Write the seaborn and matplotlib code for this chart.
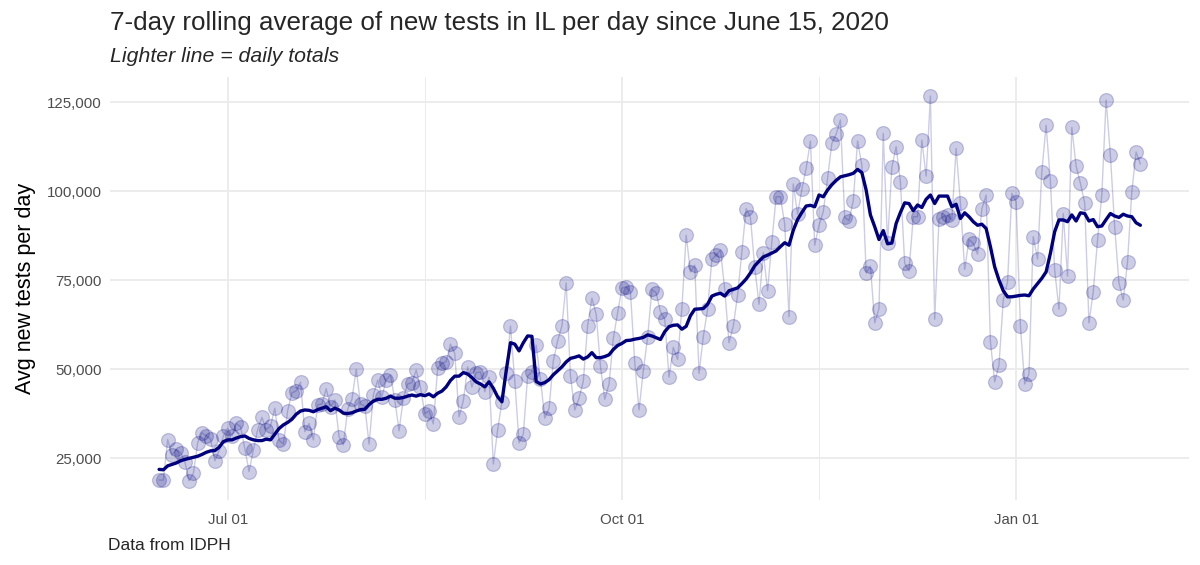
import numpy as np
import pandas as pd
import matplotlib
matplotlib.use("Agg")
import matplotlib.pyplot as plt
import matplotlib.dates as mdates
from matplotlib.ticker import FuncFormatter, MultipleLocator
import seaborn as sns


# 1. dados (em milhares de testes)

DATA_INICIAL = "2020-06-15"

TESTES_DIARIOS_MIL = [
    18.8, 18.8, 30.2, 25.8, 27.4, 26.5, 24.0, 18.6, 20.7, 29.3,
    32.1, 31.2, 30.4, 24.2, 27.1, 31.2, 33.4, 31.2, 34.7, 33.8,
    27.7, 21.2, 27.2, 33.0, 36.4, 33.0, 34.0, 39.0, 30.0, 28.9,
    38.3, 43.3, 43.9, 46.3, 32.4, 34.7, 30.1, 39.9, 40.2, 44.5,
    39.4, 41.3, 31.0, 28.7, 38.7, 41.5, 49.9, 40.2, 39.6, 28.9,
    42.7, 46.9, 42.2, 47.0, 48.3, 41.3, 32.7, 41.8, 45.8, 46.2,
    49.7, 44.9, 37.4, 38.3, 34.6, 50.2, 51.6, 52.1, 57.0, 54.4,
    36.6, 41.1, 50.6, 44.9, 49.0, 49.2, 43.6, 47.7, 23.3, 32.9,
    40.8, 49.0, 62.1, 46.7, 29.3, 31.7, 48.0, 49.2, 56.7, 47.1,
    36.2, 39.0, 52.3, 57.9, 62.1, 74.2, 48.0, 38.5, 41.8, 46.6,
    62.2, 69.9, 65.4, 50.8, 41.5, 45.8, 58.6, 65.8, 72.7, 73.1,
    71.7, 51.8, 38.5, 49.5, 58.9, 72.4, 71.4, 66.1, 64.0, 47.7,
    56.1, 52.7, 67.0, 87.6, 77.3, 79.2, 48.8, 59.1, 66.8, 80.8,
    82.0, 83.4, 72.4, 57.4, 62.1, 70.8, 83.0, 95.1, 92.6, 78.6,
    68.2, 82.7, 72.0, 85.8, 98.4, 98.4, 90.7, 64.7, 102.0, 93.5,
    100.5, 106.4, 114.1, 84.8, 90.4, 94.2, 103.6, 113.4, 116.0, 120.0,
    92.6, 91.7, 97.3, 114.1, 107.3, 77.0, 78.9, 63.0, 67.0, 116.2,
    85.3, 106.7, 112.5, 102.6, 79.7, 77.6, 92.8, 92.8, 114.3, 104.2,
    126.7, 64.0, 92.1, 92.8, 93.2, 91.9, 112.0, 96.7, 78.0, 86.4,
    85.3, 82.3, 94.9, 98.9, 57.7, 46.4, 51.1, 69.4, 74.5, 99.4,
    97.0, 62.1, 45.8, 48.6, 87.2, 80.9, 105.4, 118.5, 102.9, 77.8,
    66.8, 93.7, 76.1, 117.9, 107.0, 102.2, 96.7, 63.0, 71.7, 86.2,
    98.9, 125.6, 110.1, 90.0, 74.2, 69.4, 80.1, 99.8, 111.0, 107.6,
]

MEDIA_MOVEL_MIL = [
    21.8, 21.7, 22.8, 23.2, 23.6, 24.2, 24.6, 24.9, 25.2, 25.5,
    26.0, 26.6, 27.0, 27.1, 28.0, 29.6, 30.1, 30.1, 30.6, 31.0,
    31.2, 30.5, 30.1, 29.9, 29.9, 30.3, 30.1, 31.7, 33.3, 34.3,
    35.0, 35.9, 37.3, 38.2, 38.5, 38.4, 38.0, 38.6, 39.0, 39.4,
    38.3, 39.0, 38.5, 37.6, 37.5, 37.7, 38.2, 38.6, 38.7, 40.0,
    41.0, 41.5, 41.5, 41.8, 42.4, 41.8, 41.8, 42.0, 42.4, 42.7,
    42.4, 42.8, 42.5, 43.0, 42.2, 43.2, 43.8, 45.0, 46.8, 48.0,
    48.0, 49.0, 48.6, 47.6, 46.4, 45.8, 45.0, 46.4, 44.6, 42.2,
    40.8, 49.5, 57.4, 57.0, 55.1, 57.4, 59.3, 59.2, 46.5, 45.8,
    46.2, 47.0, 48.4, 49.5, 50.6, 52.0, 53.0, 53.3, 53.7, 52.8,
    53.4, 54.6, 53.2, 53.2, 53.5, 54.0, 55.5, 56.6, 57.2, 58.0,
    58.1, 58.4, 58.6, 58.9, 59.6, 59.3, 58.8, 58.3, 60.5, 61.9,
    62.3, 62.4, 61.2, 62.0, 65.0, 66.8, 66.9, 67.0, 68.2, 70.5,
    71.0, 71.3, 70.5, 72.0, 72.4, 72.8, 74.0, 75.3, 77.0, 79.0,
    80.3, 81.5, 82.0, 82.6, 83.2, 84.4, 85.5, 84.8, 89.0, 92.0,
    94.0, 95.8, 96.0, 95.6, 98.9, 98.4, 100.3, 101.8, 103.0, 104.0,
    104.3, 104.6, 105.0, 106.1, 105.2, 100.3, 93.3, 90.0, 86.4, 88.9,
    85.2, 85.4, 90.9, 94.0, 96.7, 96.5, 94.5, 96.1, 95.4, 97.7,
    98.9, 96.5, 98.6, 98.6, 98.6, 95.6, 96.3, 92.3, 93.9, 92.8,
    91.4, 90.4, 90.7, 89.5, 84.4, 78.7, 75.0, 72.0, 70.3, 70.3,
    70.5, 70.7, 70.8, 70.6, 72.5, 74.0, 75.5, 77.3, 82.5, 88.6,
    91.9, 91.9, 91.4, 93.3, 91.6, 93.9, 93.7, 91.6, 92.0, 90.0,
    90.2, 92.0, 93.7, 93.0, 92.6, 93.5, 93.0, 92.8, 91.1, 90.4,
]

TITULO = "7-day rolling average of new tests in IL per day since June 15, 2020"
SUBTITULO = "Lighter line = daily totals"
ROTULO_Y = "Avg new tests per day"
LEGENDA_FONTE = "Data from IDPH"


# 2. montagem da tabela

dados = pd.DataFrame(
    {
        "data": pd.date_range(DATA_INICIAL, periods=len(TESTES_DIARIOS_MIL), freq="D"),
        "testes": np.array(TESTES_DIARIOS_MIL) * 1000,
        "media_7d": np.array(MEDIA_MOVEL_MIL) * 1000,
    }
)


# 3. grafico

sns.set_theme(style="white")
plt.rcParams["font.family"] = ["Liberation Sans", "DejaVu Sans"]

fig = plt.figure(figsize=(12, 5.65), dpi=100)
ax = fig.add_axes([0.0917, 0.115, 0.8995, 0.749])

sns.lineplot(data=dados, x="data", y="testes", color="navy", alpha=0.2, linewidth=1.0, ax=ax)
sns.scatterplot(
    data=dados, x="data", y="testes", color="navy", alpha=0.2,
    s=100, edgecolor="navy", linewidth=0.9, ax=ax, zorder=3,
)
sns.lineplot(data=dados, x="data", y="media_7d", color="#00007F", linewidth=2.4, ax=ax, zorder=4)

ax.margins(x=0.05, y=0.05)

ax.xaxis.set_major_locator(mdates.MonthLocator(bymonth=[1, 4, 7, 10]))
ax.xaxis.set_major_formatter(mdates.DateFormatter("%b %d"))
menores = [pd.Timestamp("2020-08-16"), pd.Timestamp("2020-11-16")]
ax.set_xticks(mdates.date2num(menores), minor=True)
ax.yaxis.set_major_locator(MultipleLocator(25000))
ax.yaxis.set_major_formatter(FuncFormatter(lambda v, p: f"{v:,.0f}"))

ax.grid(which="major", color="#EBEBEB", linewidth=1.3)
ax.grid(which="minor", axis="x", color="#EBEBEB", linewidth=0.7)
ax.set_axisbelow(True)
for lado in ax.spines.values():
    lado.set_visible(False)
ax.tick_params(which="both", length=0, labelsize=10.8, labelcolor="#4D4D4D", pad=6)
ax.tick_params(axis="x", pad=9)

ax.set_xlabel("")
ax.set_ylabel(ROTULO_Y, fontsize=15.5, color="black", labelpad=8)

fig.text(0.0917, 0.947, TITULO, fontsize=18.7, ha="left", va="baseline")
fig.text(0.0917, 0.891, SUBTITULO, fontsize=15.3, style="italic", ha="left", va="baseline")
fig.text(0.09, 0.027, LEGENDA_FONTE, fontsize=12.5, ha="left", va="baseline")

fig.savefig("out.png", dpi=100)
